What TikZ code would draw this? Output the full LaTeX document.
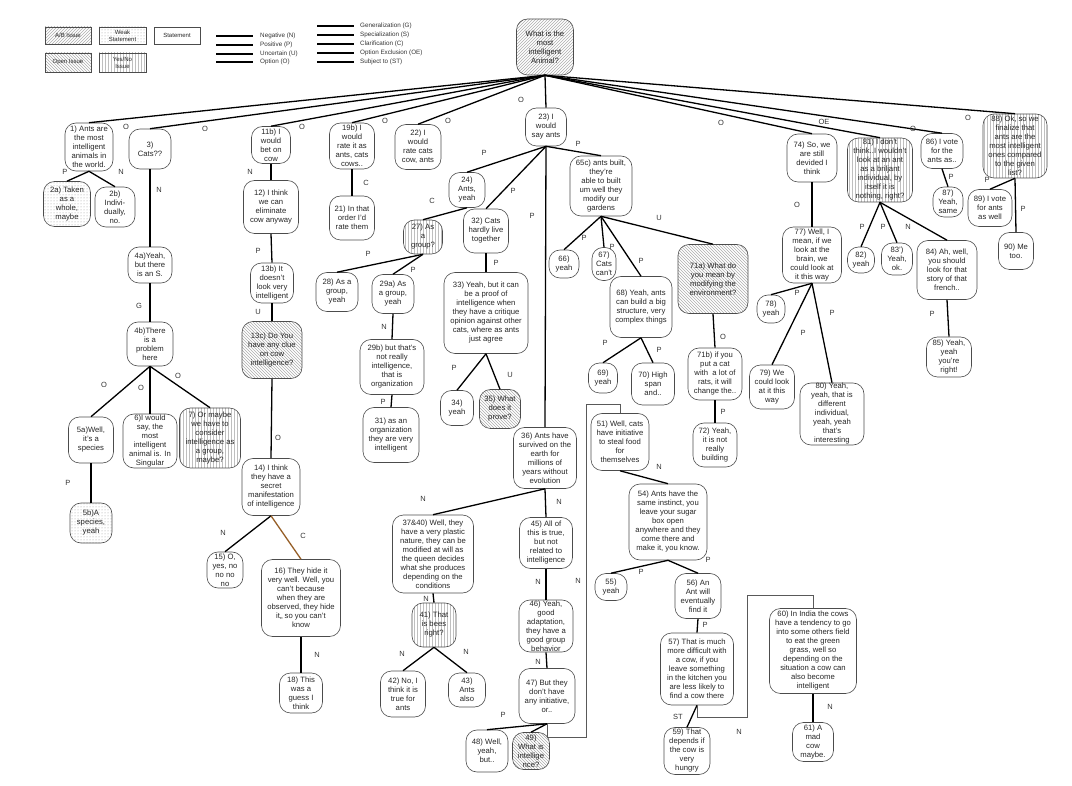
\documentclass[tikz,border=0pt]{standalone}
\usepackage{fontspec}
\setmainfont{Liberation Sans}
\usetikzlibrary{patterns}
\definecolor{linkbrown}{RGB}{150,95,40}
\tikzset{
  stmt/.style={draw=black!70, line width=0.6pt, rounded corners=11pt, align=center, inner sep=0pt, text=black!85, font=\fontsize{7.7}{9}\selectfont},
  sz/.style 2 args={minimum width=#1pt, minimum height=#2pt},
  abissue/.style={stmt, pattern=north east lines, pattern color=black!32},
  openissue/.style={stmt, pattern=north west lines, pattern color=black!32},
  ynissue/.style={stmt, pattern=vertical lines, pattern color=black!25},
  weak/.style={stmt, pattern=dots, pattern color=black!40},
  legbox/.style={sharp corners, font=\fontsize{6}{7}\selectfont},
  link/.style={line width=1.3pt},
  route/.style={draw=black!65, line width=0.8pt},
  lbl/.style={font=\fontsize{7.5}{8}\selectfont, text=black!80, inner sep=0pt},
  legtext/.style={font=\fontsize{6.3}{7}\selectfont, text=black!80, anchor=west, inner sep=0pt},
}
\begin{document}
\begin{tikzpicture}[x=1pt,y=-1pt]
\useasboundingbox (0,0) rectangle (1072,786);
% legend
\node[abissue, legbox, sz={46}{17}] (legab) at (68,35.5) {A/B Issue};
\node[weak, legbox, sz={47}{17}] (legweak) at (122.5,35.5) {Weak\\Statement};
\node[stmt, legbox, sz={46}{17}] (legstmt) at (177,35.5) {Statement};
\node[openissue, legbox, sz={46}{19}] (legopen) at (68,62.5) {Open Issue};
\node[ynissue, legbox, sz={47}{19}] (legyn) at (122.5,62.5) {Yes/No\\Issue};
\foreach \yy/\lab [count=\i] in {36/{Negative (N)},45/{Positive (P)},54/{Uncertain (U)},62/{Option (O)}} {
  \draw[link] (216,\yy) -- (253,\yy);
  \node[legtext] (lega\i) at (260,\yy) {\lab};
}
\foreach \yy/\lab [count=\i] in {26/{Generalization (G)},35/{Specialization (S)},44/{Clarification (C)},53/{Option Exclusion (OE)},62/{Subject to (ST)}} {
  \draw[link] (317,\yy) -- (354,\yy);
  \node[legtext] (legb\i) at (360,\yy) {\lab};
}

% issue
\node[abissue, sz={57}{56}] (root) at (545,47) {What is the\\most\\intelligent\\Animal?};

% left branches
\node[stmt, sz={48}{48}] (n1) at (89,147) {1) Ants are\\the most\\intelligent\\animals in\\the world.};
\node[weak, sz={47}{45}] (n2a) at (67,204) {2a) Taken\\as a\\whole,\\maybe};
\node[stmt, sz={40}{40}] (n2b) at (115,207) {2b)\\Indivi-\\dually,\\no.};
\node[stmt, sz={42}{40}] (n3) at (150,149) {3)\\Cats??};
\node[stmt, sz={44}{36}] (n4a) at (150,265) {4a)Yeah,\\but there\\is an S.};
\node[stmt, sz={46}{44}] (n4b) at (150,344) {4b)There\\is a\\problem\\here};
\node[stmt, sz={45}{46}] (n5a) at (91,440) {5a)Well,\\it's a\\species};
\node[weak, sz={42}{40}] (n5b) at (91,523) {5b)A\\species,\\yeah};
\node[stmt, sz={54}{54}] (n6) at (150,441) {6)I would\\say, the\\most\\intelligent\\animal is. In\\Singular};
\node[ynissue, sz={61}{60}] (n7) at (210,438) {7) Or maybe\\we have to\\consider\\intelligence as\\a group,\\maybe?};
\node[stmt, sz={39}{37}] (n11b) at (271,145) {11b) I\\would\\bet on\\cow};
\node[stmt, sz={55}{53}] (n12) at (271,207) {12) I think\\we can\\eliminate\\cow anyway};
\node[stmt, sz={43}{40}] (n13b) at (272,283) {13b) It\\doesn't\\look very\\intelligent};
\node[openissue, sz={60}{57}] (n13c) at (272,350) {13c) Do You\\have any clue\\on cow\\intelligence?};
\node[stmt, sz={58}{57}] (n14) at (271,487) {14) I think\\they have a\\secret\\manifestation\\of intelligence};
\node[stmt, sz={36}{36}] (n15) at (225,570) {15) O,\\yes, no\\no no\\no};
\node[stmt, sz={79}{77}] (n16) at (301,598) {16) They hide it\\very well. Well, you\\can't because\\when they are\\observed, they hide\\it,, so you can't\\know};
\node[stmt, sz={43}{40}] (n18) at (301,693) {18) This\\was a\\guess I\\think};
\node[stmt, sz={45}{46}] (n19b) at (352,146) {19b) I\\would\\rate it as\\ants, cats\\cows..};
\node[stmt, sz={45}{44}] (n21) at (352,218) {21) In that\\order I'd\\rate them};
\node[stmt, sz={46}{45}] (n22) at (418,147) {22) I\\would\\rate cats\\cow, ants};

% middle branches
\node[stmt, sz={41}{38}] (n23) at (546,127) {23) I\\would\\say ants};
\node[stmt, sz={36}{35}] (n24) at (467,190) {24)\\Ants,\\yeah};
\node[ynissue, sz={39}{34}] (n27) at (423,237) {27) As\\a\\group?};
\node[stmt, sz={42}{39}] (n28) at (337,292) {28) As a\\group,\\yeah};
\node[stmt, sz={42}{39}] (n29a) at (393,294) {29a) As\\a group,\\yeah};
\node[stmt, sz={64}{55}] (n29b) at (392,367) {29b) but that's\\not really\\intelligence,\\that is\\organization};
\node[stmt, sz={56}{55}] (n31) at (391,435) {31) as an\\organization\\they are very\\intelligent};
\node[stmt, sz={45}{44}] (n32) at (486,231) {32) Cats\\hardly live\\together};
\node[stmt, sz={84}{81}] (n33) at (486,313) {33) Yeah, but it can\\be a proof of\\intelligence when\\they have a critique\\opinion against other\\cats, where as ants\\just agree};
\node[stmt, sz={33}{35}] (n34) at (457,408) {34)\\yeah};
\node[openissue, sz={41}{39}] (n35) at (500,409) {35) What\\does it\\prove?};
\node[stmt, sz={62}{60}] (n65c) at (601,186) {65c) ants built,\\they're\\able to built\\um well they\\modify our\\gardens};
\node[stmt, sz={30}{28}] (n66) at (564,264) {66)\\yeah};
\node[stmt, sz={24}{33}] (n67) at (604,264) {67)\\Cats\\can't};
\node[stmt, sz={62}{61}] (n68) at (641,307) {68) Yeah, ants\\can build a big\\structure, very\\complex things};
\node[stmt, sz={29}{30}] (n69) at (603,378) {69)\\yeah};
\node[stmt, sz={43}{42}] (n70) at (653,384) {70) High\\span\\and..};
\node[openissue, sz={70}{69}] (n71a) at (713,279) {71a) What do\\you mean by\\modifying the\\environment?};
\node[stmt, sz={54}{52}] (n71b) at (715,374) {71b) if you\\put a cat\\with\ \ a lot of\\rats, it will\\change the..};
\node[stmt, sz={44}{44}] (n72) at (715,445) {72) Yeah,\\it is not\\really\\building};
\node[stmt, sz={63}{61}] (n36) at (545,458) {36) Ants have\\survived on the\\earth for\\millions of\\years without\\evolution};
\node[stmt, sz={81}{78}] (n3740) at (433,554) {37\&40) Well, they\\have a very plastic\\nature, they can be\\modified at will as\\the queen decides\\what she produces\\depending on the\\conditions};
\node[ynissue, sz={44}{44}] (n41) at (434,625) {41) That\\is bees\\right?};
\node[stmt, sz={45}{46}] (n42) at (403,694) {42) No, I\\think it is\\true for\\ants};
\node[stmt, sz={37}{34}] (n43) at (467,690) {43)\\Ants\\also};
\node[stmt, sz={53}{51}] (n45) at (546,543) {45) All of\\this is true,\\but not\\related to\\intelligence};
\node[stmt, sz={54}{52}] (n46) at (546,626) {46) Yeah,\\good\\adaptation,\\they have a\\good group\\behavior};
\node[stmt, sz={56}{55}] (n47) at (547,696) {47) But they\\don't have\\any initiative,\\or..};
\node[stmt, sz={42}{42}] (n48) at (487,751) {48) Well,\\yeah,\\but..};
\node[openissue, sz={37}{37}] (n49) at (531,751) {49)\\What is\\intellige\\nce?};
\node[stmt, sz={58}{57}] (n51) at (620,442) {51) Well, cats\\have initiative\\to steal food\\for\\themselves};
\node[stmt, sz={78}{76}] (n54) at (668,522) {54) Ants have the\\same instinct, you\\leave your sugar\\box open\\anywhere and they\\come there and\\make it, you know.};
\node[stmt, sz={32}{27}] (n55) at (611,587) {55)\\yeah};
\node[stmt, sz={46}{45}] (n56) at (698,596) {56) An\\Ant will\\eventually\\find it};
\node[stmt, sz={73}{72}] (n57) at (697,669) {57) That is much\\more difficult with\\a cow, if you\\leave something\\in the kitchen you\\are less likely to\\find a cow there};
\node[stmt, sz={46}{47}] (n59) at (687,751) {59) That\\depends if\\the cow is\\very\\hungry};
\node[stmt, sz={87}{85}] (n60) at (813,651) {60) In India the cows\\have a tendency to go\\into some others field\\to eat the green\\grass, well so\\depending on the\\situation a cow can\\also become\\intelligent};
\node[stmt, sz={41}{39}] (n61) at (813,742) {61) A\\mad\\cow\\maybe.};

% right branches
\node[stmt, sz={50}{48}] (n74) at (812,158) {74) So, we\\are still\\devided I\\think};
\node[stmt, sz={59}{56}] (n77) at (812,255) {77) Well, I\\mean, if we\\look at the\\brain, we\\could look at\\it this way};
\node[stmt, sz={28}{28}] (n78) at (771,309) {78)\\yeah};
\node[stmt, sz={45}{44}] (n79) at (772,387) {79) We\\could look\\at it this\\way};
\node[stmt, sz={64}{62}] (n80) at (832,414) {80) Yeah,\\yeah, that is\\different\\individual,\\yeah, yeah\\that's\\interesting};
\node[ynissue, sz={65}{64}] (n81) at (880,170) {81) I don't\\think..I wouldn't\\look at an ant\\as a briljant\\individual, by\\itself it is\\nothing, right?};
\node[stmt, sz={27}{26}] (n82) at (861,260) {82)\\yeah};
\node[stmt, sz={31}{32}] (n83) at (897,259) {83')\\Yeah,\\ok.};
\node[stmt, sz={60}{59}] (n84) at (947,270) {84) Ah, well,\\you should\\look for that\\story of that\\french..};
\node[stmt, sz={45}{40}] (n85) at (949,357) {85) Yeah,\\yeah\\you're\\right!};
\node[stmt, sz={42}{35}] (n86) at (942,151) {86) I vote\\for the\\ants as..};
\node[stmt, sz={30}{30}] (n87) at (948,202) {87)\\Yeah,\\same};
\node[ynissue, sz={64}{64}] (n88) at (1015,146) {88) Ok, so we\\finalize that\\ants are the\\most intelligent\\ones compared\\to the given\\list?};
\node[stmt, sz={44}{37}] (n89) at (990,208) {89) I vote\\for ants\\as well};
\node[stmt, sz={35}{37}] (n90) at (1016,251) {90) Me\\too.};

% links from the issue
\draw[link] (root.south) -- (n1.north) node[lbl] at (126,127) {O};
\draw[link] (root.south) -- (n3.north) node[lbl] at (205,129) {O};
\draw[link] (root.south) -- (n11b.north) node[lbl] at (302,127) {O};
\draw[link] (root.south) -- (n19b.north) node[lbl] at (385,121) {O};
\draw[link] (root.south) -- (n22.north) node[lbl] at (448,121) {O};
\draw[link] (root.south) -- (n23.north) node[lbl] at (521,100) {O};
\draw[link] (root.south) -- (n74.north) node[lbl] at (721,123) {O};
\draw[link] (root.south) -- (n81.north) node[lbl] at (824,122) {OE};
\draw[link] (root.south) -- (n86.north) node[lbl] at (913,129) {O};
\draw[link] (root.south) -- (n88.north) node[lbl] at (968,118) {O};

% left links
\draw[link] (n1.south) -- (n2a.north) node[lbl] at (65,172) {P};
\draw[link] (n1.south) -- (n2b.north) node[lbl] at (121,172) {N};
\draw[link] (n3.south) -- (n4a.north) node[lbl] at (159,190) {N};
\draw[link] (n4a.south) -- (n4b.north) node[lbl] at (139,306) {G};
\draw[link] (n4b.south) -- (n5a.north) node[lbl] at (104,385) {O};
\draw[link] (n4b.south) -- (n6.north) node[lbl] at (141,388) {O};
\draw[link] (n4b.south) -- (n7.north) node[lbl] at (178,376) {O};
\draw[link] (n5a.south) -- (n5b.north) node[lbl] at (68,483) {P};
\draw[link] (n11b.south) -- (n12.north) node[lbl] at (250,172) {N};
\draw[link] (n12.south) -- (n13b.north) node[lbl] at (258,251) {P};
\draw[link] (n13b.south) -- (n13c.north) node[lbl] at (258,312) {U};
\draw[link] (n13c.south) -- (n14.north) node[lbl] at (278,438) {O};
\draw[link] (n14.south) -- (n15.north) node[lbl] at (223,533) {N};
\draw[link, draw=linkbrown] (n14.south) -- (n16.north) node[lbl] at (303,536) {C};
\draw[link] (n16.south) -- (n18.north) node[lbl] at (317,655) {N};
\draw[link] (n19b.south) -- (n21.north) node[lbl] at (366,183) {C};

% middle links
\draw[link] (n23.south) -- (n24.north) node[lbl] at (484,153) {P};
\draw[link] (n23.south) -- (n32.north) node[lbl] at (513,191) {P};
\draw[link] (n23.south) -- (n65c.north) node[lbl] at (578,144) {P};
\draw[link] (n23.south) -- (n36.north) node[lbl] at (532,216) {P};
\draw[link] (n24.south) -- (n27.north) node[lbl] at (432,201) {C};
\draw[link] (n27.south) -- (n28.north) node[lbl] at (368,254) {P};
\draw[link] (n27.south) -- (n29a.north) node[lbl] at (413,270) {P};
\draw[link] (n29a.south) -- (n29b.north) node[lbl] at (384,327) {N};
\draw[link] (n29b.south) -- (n31.north) node[lbl] at (383,402) {P};
\draw[link] (n32.south) -- (n33.north) node[lbl] at (496,263) {P};
\draw[link] (n33.south) -- (n34.north) node[lbl] at (454,368) {P};
\draw[link] (n33.south) -- (n35.north) node[lbl] at (510,375) {U};
\draw[link] (n65c.south) -- (n66.north) node[lbl] at (584,238) {P};
\draw[link] (n65c.south) -- (n67.north) node[lbl] at (612,247) {P};
\draw[link] (n65c.south) -- (n68.north) node[lbl] at (641,261) {P};
\draw[link] (n65c.south) -- (n71a.north) node[lbl] at (659,218) {U};
\draw[link] (n68.south) -- (n69.north) node[lbl] at (605,343) {P};
\draw[link] (n68.south) -- (n70.north) node[lbl] at (659,350) {P};
\draw[link] (n71a.south) -- (n71b.north) node[lbl] at (723,337) {O};
\draw[link] (n71b.south) -- (n72.north) node[lbl] at (723,412) {P};
\draw[link] (n36.south) -- (n3740.north) node[lbl] at (423,499) {N};
\draw[link] (n36.south) -- (n45.north) node[lbl] at (559,502) {N};
\draw[link] (n3740.south) -- (n41.north) node[lbl] at (426,599) {N};
\draw[link] (n41.south) -- (n42.north) node[lbl] at (402,654) {N};
\draw[link] (n41.south) -- (n43.north) node[lbl] at (466,652) {N};
\draw[link] (n45.south) -- (n46.north) node[lbl] at (538,582) {N};
\draw[link] (n46.south) -- (n47.north) node[lbl] at (538,662) {N};
\draw[link] (n47.south) -- (n48.north) node[lbl] at (503,715) {P};
\draw[link] (n47.south) -- (n49.north);
\draw[route] (n47.south) -- ++(0,14) -- ++(39,0) |- ([yshift=9pt]n51.north) -- (n51.north) node[lbl] at (578,581) {N};
\draw[link] (n51.south) -- (n54.north) node[lbl] at (659,467) {N};
\draw[link] (n54.south) -- (n55.north) node[lbl] at (641,572) {P};
\draw[link] (n54.south) -- (n56.north) node[lbl] at (708,560) {P};
\draw[link] (n56.south) -- (n57.north) node[lbl] at (705,625) {P};
\draw[link] (n57.south) -- (n59.north) node[lbl] at (678,717) {ST};
\draw[route] (n57.south) -- ++(0,12) -- ++(50,0) |- ([yshift=13pt]n60.north) -- (n60.north) node[lbl] at (739,732) {N};
\draw[link] (n60.south) -- (n61.north) node[lbl] at (830,707) {N};

% right links
\draw[link] (n74.south) -- (n77.north) node[lbl] at (797,205) {O};
\draw[link] (n77.south) -- (n78.north) node[lbl] at (797,293) {P};
\draw[link] (n77.south) -- (n79.north) node[lbl] at (803,333) {P};
\draw[link] (n77.south) -- (n80.north) node[lbl] at (832,313) {P};
\draw[link] (n81.south) -- (n82.north) node[lbl] at (862,227) {P};
\draw[link] (n81.south) -- (n83.north) node[lbl] at (883,227) {P};
\draw[link] (n81.south) -- (n84.north) node[lbl] at (908,227) {N};
\draw[link] (n84.south) -- (n85.north) node[lbl] at (932,314) {P};
\draw[link] (n86.south) -- (n87.north) node[lbl] at (951,177) {P};
\draw[link] (n88.south) -- (n89.north) node[lbl] at (987,180) {P};
\draw[link] (n88.south) -- (n90.north) node[lbl] at (1023,209) {P};
\end{tikzpicture}
\end{document}
